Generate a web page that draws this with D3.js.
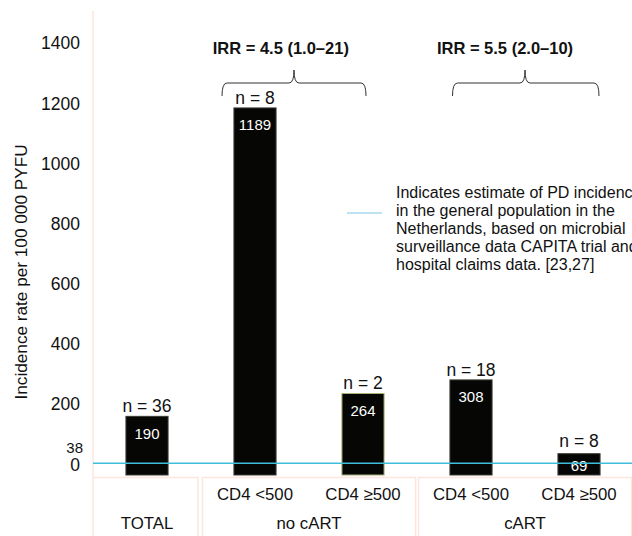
<!DOCTYPE html>
<html>
<head>
<meta charset="utf-8">
<script src="https://cdn.jsdelivr.net/npm/d3@7"></script>
<style>
  body { margin: 0; background: #fff; }
  svg { font-family: Arial, "Liberation Sans", sans-serif; display: block; }
</style>
</head>
<body>
<svg width="632" height="536"></svg>
<script>
// data
var categories = ["TOTAL", "noCART_low", "noCART_high", "cART_low", "cART_high"];
var subLabels = ["", "CD4 <500", "CD4 \u2265500", "CD4 <500", "CD4 \u2265500"];
var rates = [190, 1189, 264, 308, 69];
var counts = [36, 8, 2, 18, 8];
var groups = [
  {label: "TOTAL", from: 0, to: 0},
  {label: "no cART", from: 1, to: 2},
  {label: "cART", from: 3, to: 4}
];
var irrLabels = ["IRR = 4.5 (1.0\u201321)", "IRR = 5.5 (2.0\u201310)"];
var generalRate = 38;
var tickValues = [0, 38, 200, 400, 600, 800, 1000, 1200, 1400];
var legendLines = [
  "Indicates estimate of PD incidence",
  "in the general population in the",
  "Netherlands, based on microbial",
  "surveillance data CAPITA trial and",
  "hospital claims data. [23,27]"
];

var font = "Arial, \"Liberation Sans\", sans-serif";

var svg = d3.select("svg"),
    width = +svg.attr("width"),
    height = +svg.attr("height");

var x = d3.scaleBand()
    .domain(categories)
    .range([93, 633])
    .paddingInner(0.61)
    .paddingOuter(0.305);

var y = d3.scaleLinear()
    .domain([0, 1400])
    .range([475, 42.8]);

// tick labels in the original sit slightly off the bar scale
var yLab = d3.scaleLinear()
    .domain([0, 1400])
    .range([464, 42.7]);

var pink = "#fce6de";

// left rule
svg.append("line")
    .attr("x1", 93).attr("x2", 93)
    .attr("y1", 11).attr("y2", 477)
    .attr("stroke", pink).attr("stroke-width", 1.5);

// table of category cells
var cellTop = 477.5;
groups.forEach(function(g) {
  var x0 = x(categories[g.from]) - x.step() * x.paddingOuter();
  var x1 = x(categories[g.to]) + x.bandwidth() + x.step() * x.paddingOuter();
  svg.append("rect")
      .attr("x", x0 + (g.from === 0 ? 0 : 1.5))
      .attr("y", cellTop)
      .attr("width", x1 - x0 - 3)
      .attr("height", 80)
      .attr("fill", "none")
      .attr("stroke", pink)
      .attr("stroke-width", 1.5);
  svg.append("text")
      .attr("x", (x0 + x1) / 2)
      .attr("y", 523)
      .attr("text-anchor", "middle")
      .attr("dominant-baseline", "central")
      .attr("font-size", 16.8)
      .attr("fill", "#111")
      .text(g.label);
});

svg.append("g").selectAll("text")
  .data(categories)
  .enter().append("text")
    .attr("x", function(d) { return x(d) + x.bandwidth() / 2; })
    .attr("y", 494)
    .attr("text-anchor", "middle")
    .attr("dominant-baseline", "central")
    .attr("font-size", 16.8)
    .attr("fill", "#111")
    .text(function(d, i) { return subLabels[i]; });

// y axis labels (no line, no ticks)
var ax = svg.append("g")
    .attr("transform", "translate(80,0)")
    .call(d3.axisLeft(yLab).tickValues(tickValues).tickSize(0).tickPadding(0).tickFormat(d3.format("d")));
ax.attr("font-family", font).attr("font-size", 17.5);
ax.select(".domain").remove();
ax.selectAll("text")
    .attr("font-size", function(d) { return d === 38 ? 15 : 17.5; })
    .attr("fill", "#111")
    .attr("dx", function(d) { return d === 38 ? 3 : 0; })
    .attr("dy", function(d) { return d === 38 ? "0.02em" : "0.35em"; });

svg.append("text")
    .attr("transform", "translate(21,272) rotate(-90)")
    .attr("text-anchor", "middle")
    .attr("dominant-baseline", "central")
    .attr("font-size", 17.2)
    .attr("fill", "#111")
    .text("Incidence rate per 100 000 PYFU");

// bars
svg.append("g").selectAll("rect")
  .data(rates)
  .enter().append("rect")
    .attr("x", function(d, i) { return x(categories[i]); })
    .attr("y", function(d) { return y(d); })
    .attr("width", x.bandwidth())
    .attr("height", function(d) { return y(0) - y(d); })
    .attr("fill", "#060604")
    .attr("stroke", function(d, i) { return i === 2 ? "#a9ae74" : "#3a3a32"; })
    .attr("stroke-width", 1);

// value labels
svg.append("g").selectAll("text")
  .data(rates)
  .enter().append("text")
    .attr("x", function(d, i) { return x(categories[i]) + x.bandwidth() / 2; })
    .attr("y", function(d) { return y(d) + (d < 100 ? 12 : 17); })
    .attr("text-anchor", "middle")
    .attr("dominant-baseline", "central")
    .attr("font-size", 15)
    .attr("fill", "#fff")
    .text(function(d) { return d; });

// n labels
svg.append("g").selectAll("text")
  .data(counts)
  .enter().append("text")
    .attr("x", function(d, i) { return x(categories[i]) + x.bandwidth() / 2; })
    .attr("y", function(d, i) { return y(rates[i]) - (rates[i] < 100 ? 13 : 10); })
    .attr("text-anchor", "middle")
    .attr("dominant-baseline", "central")
    .attr("font-size", 17.5)
    .attr("fill", "#111")
    .text(function(d) { return "n = " + d; });

// general population reference line
svg.append("line")
    .attr("x1", 93).attr("x2", width)
    .attr("y1", y(generalRate)).attr("y2", y(generalRate))
    .attr("stroke", "#3fbedb").attr("stroke-width", 1.3);

// braces with IRR labels
function brace(x1, x2, xm, yTip, yLine, yEnd) {
  var r = 5;
  return "M" + x1 + "," + yEnd +
    "Q" + x1 + "," + yLine + " " + (x1 + r) + "," + yLine +
    "L" + (xm - r) + "," + yLine +
    "Q" + xm + "," + yLine + " " + xm + "," + yTip +
    "Q" + xm + "," + yLine + " " + (xm + r) + "," + yLine +
    "L" + (x2 - r) + "," + yLine +
    "Q" + x2 + "," + yLine + " " + x2 + "," + yEnd;
}
var braces = [
  {a: 1, b: 2, l: -33, r: 3, mid: 294, text: 280.8},
  {a: 3, b: 4, l: -18.5, r: 20, mid: 525, text: 505}
];
braces.forEach(function(b, i) {
  var x1 = x(categories[b.a]) + x.bandwidth() / 2 + b.l;
  var x2 = x(categories[b.b]) + x.bandwidth() / 2 + b.r;
  svg.append("path")
      .attr("d", brace(x1, x2, b.mid, 70, 83, 96))
      .attr("fill", "none")
      .attr("stroke", "#333")
      .attr("stroke-width", 1);
  svg.append("text")
      .attr("x", b.text)
      .attr("y", 48)
      .attr("text-anchor", "middle")
      .attr("dominant-baseline", "central")
      .attr("font-size", 16.5)
      .attr("font-weight", "bold")
      .attr("fill", "#111")
      .text(irrLabels[i]);
});

// legend
svg.append("line")
    .attr("x1", 347).attr("x2", 382)
    .attr("y1", 213).attr("y2", 213)
    .attr("stroke", "#7cc8e6").attr("stroke-width", 1.2);
svg.append("g").selectAll("text")
  .data(legendLines)
  .enter().append("text")
    .attr("x", 396)
    .attr("y", function(d, i) { return 192.7 + i * 17.9; })
    .attr("dominant-baseline", "central")
    .attr("font-size", 16)
    .attr("fill", "#111")
    .text(function(d) { return d; });
</script>
</body>
</html>
